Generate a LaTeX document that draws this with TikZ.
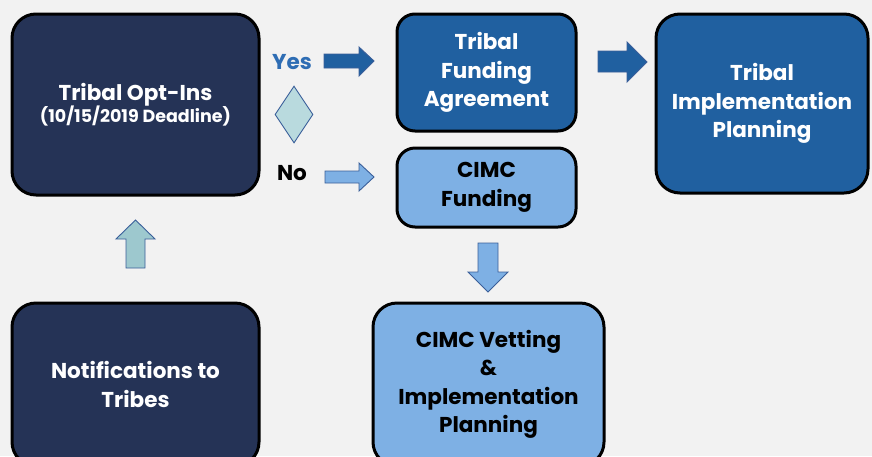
\documentclass[tikz,border=0pt]{standalone}
\usepackage{fontspec}
\setmainfont{Poppins}
\usetikzlibrary{shapes.geometric}
\definecolor{bgc}{HTML}{F2F2F2}
\definecolor{navy}{HTML}{253356}
\definecolor{dblue}{HTML}{2060A0}
\definecolor{lblue}{HTML}{7EB0E4}
\definecolor{teal1}{HTML}{B9DADE}
\definecolor{teal2}{HTML}{9DC8CE}
\definecolor{outl}{HTML}{3A5F9A}
\definecolor{yesc}{HTML}{2E6DB4}
\tikzset{
  box/.style={draw=black, line width=3pt, rounded corners=24pt, align=center,
    inner sep=0pt, font=\bfseries\fontsize{21.5}{28.5}\selectfont},
  sbox/.style={box, rounded corners=18pt},
  blk/.style={draw=outl, line width=0.9pt, line join=miter},
  lbl/.style={font=\bfseries\fontsize{21.5}{24}\selectfont, inner sep=0pt}
}
\begin{document}
\begin{tikzpicture}[x=1pt,y=-1pt]
\fill[bgc] (0,0) rectangle (872,456);
\useasboundingbox (0,0) rectangle (872,456);
\begin{scope}
\clip (0,0) rectangle (872,456);
\node[box, fill=navy, text=white, minimum width=247pt, minimum height=181pt] (optin) at (135.5,104.5)
  {Tribal Opt-Ins\\[-6pt]{\fontsize{17.5}{20}\selectfont(10/15/2019 Deadline)}};
\node[sbox, fill=dblue, text=white, minimum width=179pt, minimum height=117pt] (tfa) at (486.5,72.5)
  {Tribal\\Funding\\Agreement};
\node[sbox, fill=lblue, text=black, minimum width=179pt, minimum height=79pt] (cf) at (486.5,187.5)
  {CIMC\\Funding};
\node[box, fill=dblue, text=white, minimum width=212pt, minimum height=179pt] (tip) at (762,103.5)
  {Tribal\\Implementation\\Planning};
\node[box, fill=navy, text=white, minimum width=247pt, minimum height=163pt] (notif) at (135.5,384.5)
  {Notifications to\\Tribes};
\node[box, fill=lblue, text=black, minimum width=231pt, minimum height=163pt] (vet) at (488.5,384.5)
  {CIMC Vetting\\\&\\Implementation\\Planning};
\end{scope}
\node[diamond, blk, fill=teal1, minimum width=38pt, minimum height=57pt, inner sep=0pt] (dec) at (294,114.5) {};
\node[lbl, text=yesc] (yes) at (292,62) {Yes};
\node[lbl, text=black] (no) at (292,173) {No};
% block arrows
\draw[blk, fill=dblue] (324,54) -- (359,54) -- (359,47) -- (374,61) -- (359,76) -- (359,68) -- (324,68) -- cycle;
\draw[blk, fill=lblue] (325,171) -- (359,171) -- (359,163) -- (374,177) -- (359,191) -- (359,183) -- (325,183) -- cycle;
\draw[blk, fill=dblue] (598,51) -- (627,51) -- (627,42) -- (647,62) -- (627,82) -- (627,72) -- (598,72) -- cycle;
\draw[blk, fill=teal2] (126,268) -- (126,239) -- (116,239) -- (135.5,220) -- (155,239) -- (145,239) -- (145,268) -- cycle;
\draw[blk, fill=lblue] (478,243) -- (478,272) -- (468,272) -- (488,292) -- (508,272) -- (498,272) -- (498,243) -- cycle;
\end{tikzpicture}
\end{document}
